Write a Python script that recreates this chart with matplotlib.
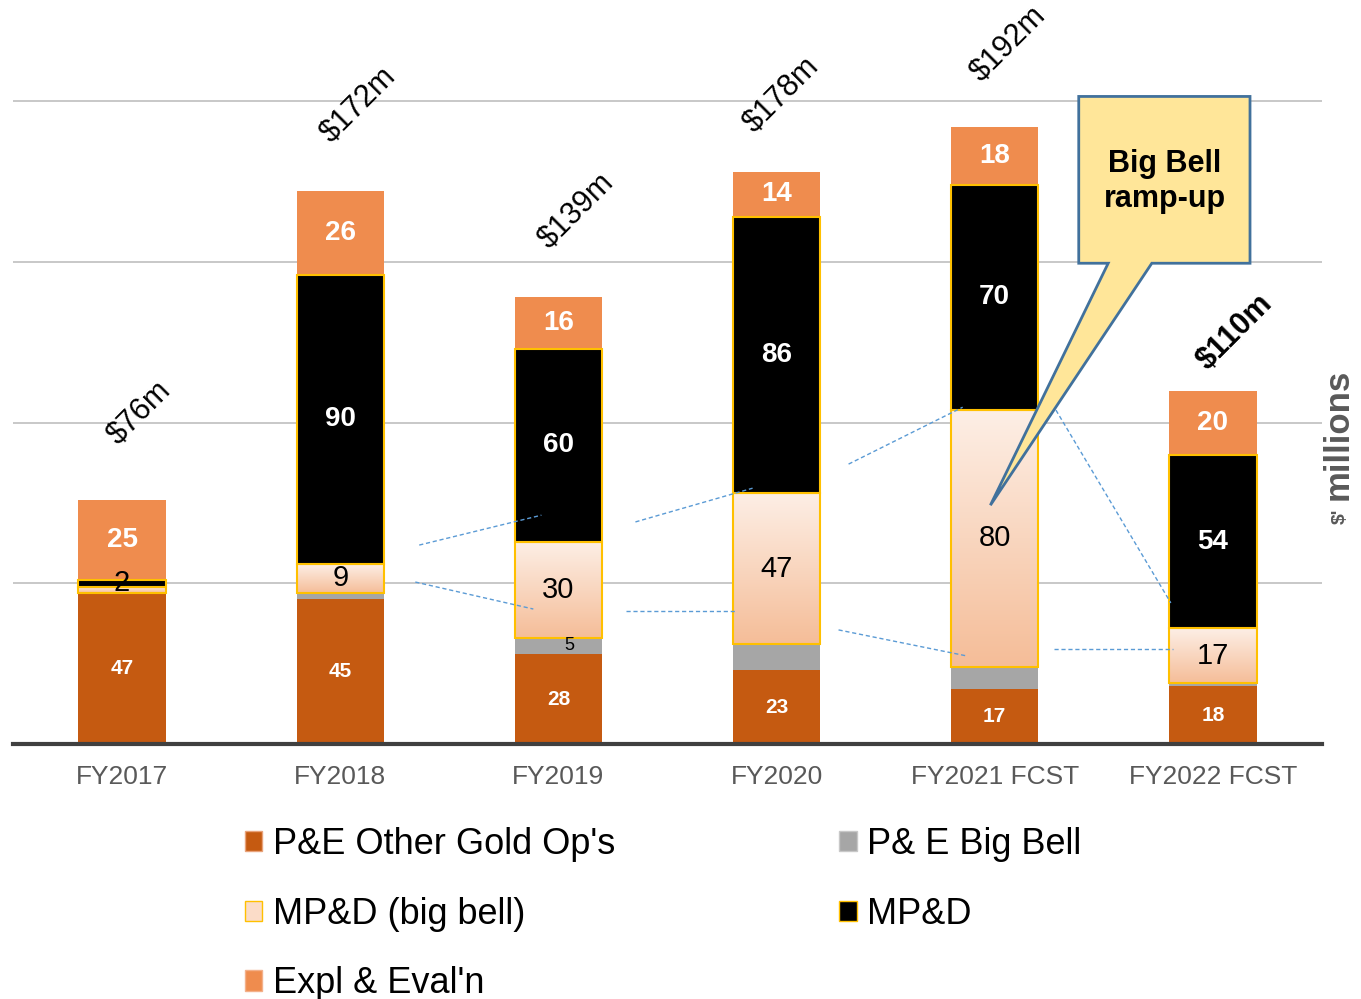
import matplotlib
matplotlib.use("Agg")
import matplotlib.pyplot as plt
import numpy as np
from matplotlib.patches import Patch, Polygon, Rectangle
from matplotlib.colors import LinearSegmentedColormap

plt.rcParams["font.family"] = ["Liberation Sans", "DejaVu Sans"]

categories = ["FY2017", "FY2018", "FY2019", "FY2020", "FY2021 FCST", "FY2022 FCST"]
pe_other = [47, 45, 28, 23, 17, 18]
pe_bigbell = [0, 2, 5, 8, 7, 1]
mpd_bigbell = [2, 9, 30, 47, 80, 17]
mpd = [2, 90, 60, 86, 70, 54]
expl = [25, 26, 16, 14, 18, 20]
totals = ["$76m", "$172m", "$139m", "$178m", "$192m", "$110m"]

C_PE = "#C55A11"
C_GRAY = "#A6A6A6"
C_EXPL = "#EF8C4E"
C_GOLD = "#FFC000"

W, H = 1361, 999
fig = plt.figure(figsize=(W / 100, H / 100), dpi=100)
ax = fig.add_axes([13 / W, (H - 744) / H, (1322 - 13) / W, (744 - 37) / H])
ax.set_xlim(-0.5, 5.5)
ax.set_ylim(0, 220)

x = np.arange(len(categories))
bw = 0.4

for g in [50, 100, 150, 200]:
    ax.axhline(g, color="#BFBFBF", lw=1.2, zorder=0)

b1 = np.array(pe_other, float)
ax.bar(x, pe_other, bw, color=C_PE, zorder=2)
ax.bar(x, pe_bigbell, bw, bottom=b1, color=C_GRAY, zorder=2)
b2 = b1 + np.array(pe_bigbell)
# gradient bars
cmap = LinearSegmentedColormap.from_list("peach", ["#F5BD98", "#FDEFE6"])
grad = np.linspace(0, 1, 256).reshape(-1, 1)
for i in range(len(x)):
    y0, y1 = b2[i], b2[i] + mpd_bigbell[i]
    ax.imshow(grad, cmap=cmap, origin="lower", aspect="auto",
              extent=[x[i] - bw / 2, x[i] + bw / 2, y0, y1], zorder=2)
    ax.add_patch(Rectangle((x[i] - bw / 2, y0), bw, y1 - y0, fill=False,
                           edgecolor=C_GOLD, lw=1.5, zorder=3))
b3 = b2 + np.array(mpd_bigbell)
ax.bar(x, mpd, bw, bottom=b3, color="black", edgecolor=C_GOLD, lw=1.5, zorder=3)
b4 = b3 + np.array(mpd)
ax.bar(x, expl, bw, bottom=b4, color=C_EXPL, zorder=2)
top = b4 + np.array(expl)
ax.set_xlim(-0.5, 5.5)
ax.set_ylim(0, 220)

# labels
total_offsets = [27, 27, 27, 24, 26, 18]
total_dx = [0.08, 0.08, 0.08, 0.02, 0.06, 0.1]
for i in range(len(x)):
    ax.text(x[i], pe_other[i] / 2, str(pe_other[i]), ha="center", va="center",
            color="white", fontsize=15, fontweight="bold", zorder=5)
    if i == 2:
        ax.text(x[i] + 0.05, b1[i] + pe_bigbell[i] / 2, str(pe_bigbell[i]), ha="center",
                va="center", color="black", fontsize=13, zorder=5)
    if i > 0:
        ax.text(x[i], b2[i] + mpd_bigbell[i] / 2, str(mpd_bigbell[i]), ha="center",
                va="center", color="black", fontsize=21, zorder=5)
    if i == 0:
        ax.text(x[i], b3[i] + mpd[i] / 2, str(mpd[i]), ha="center", va="center",
                color="black", fontsize=21, zorder=5)
    else:
        ax.text(x[i], b3[i] + mpd[i] / 2, str(mpd[i]), ha="center", va="center",
                color="white", fontsize=20, fontweight="bold", zorder=5)
    ax.text(x[i], b4[i] + expl[i] / 2, str(expl[i]), ha="center", va="center",
            color="white", fontsize=20, fontweight="bold", zorder=5)
    ax.text(x[i] + total_dx[i], top[i] + total_offsets[i], totals[i], ha="center",
            va="center", rotation=45, fontsize=22, color="black",
            fontweight="bold" if i == 5 else "normal", zorder=5)

# dashed connector lines
dash_lines = [
    ((1.362, 61.9), (1.922, 71.2)),
    ((1.344, 50.4), (1.885, 42.0)),
    ((2.353, 69.1), (2.890, 79.6)),
    ((2.312, 41.4), (2.812, 41.4)),
    ((3.330, 87.1), (3.853, 104.8)),
    ((3.284, 35.5), (3.872, 27.4)),
    ((4.271, 29.5), (4.817, 29.5)),
    ((4.248, 107.6), (4.807, 43.9)),
]
for (xa, ya), (xb, yb) in dash_lines:
    ax.plot([xa, xb], [ya, yb], color="#5B9BD5", lw=1, ls=(0, (3, 2)), zorder=4)

# callout
callout = Polygon([(4.385, 201.5), (5.17, 201.5), (5.17, 149.6), (4.72, 149.6),
                   (3.98, 74.3), (4.52, 149.6), (4.385, 149.6)], closed=True,
                  facecolor="#FFE699", edgecolor="#41719C", lw=2, zorder=6)
ax.add_patch(callout)
ax.text(4.78, 175, "Big Bell\nramp-up", ha="center", va="center", fontsize=22,
        fontweight="bold", linespacing=1.25, zorder=7)

for s in ["top", "left", "right"]:
    ax.spines[s].set_visible(False)
ax.spines["bottom"].set_color("#404040")
ax.spines["bottom"].set_linewidth(3)
ax.set_yticks([])
ax.set_xticks(x)
ax.set_xticklabels(categories, fontsize=19, color="#595959")
ax.tick_params(axis="x", length=0, pad=15)

fig.text(1338 / W, 1 - 434 / H, "millions", rotation=90, ha="center", va="center",
         fontsize=25, fontweight="bold", color="#595959")
fig.text(1340 / W, 1 - 516 / H, "$'", rotation=90, ha="center", va="center",
         fontsize=14, fontweight="bold", color="#595959")

handles = [
    Patch(facecolor=C_PE, edgecolor="#E8A27A", label="P&E Other Gold Op's"),
    Patch(facecolor="#FBDCC8", edgecolor=C_GOLD, label="MP&D (big bell)"),
    Patch(facecolor=C_EXPL, edgecolor="#F3B08A", label="Expl & Eval'n"),
    Patch(facecolor=C_GRAY, edgecolor="#C8C8C8", label="P& E Big Bell"),
    Patch(facecolor="black", edgecolor=C_GOLD, label="MP&D"),
]
fig.legend(handles=handles, ncol=2, loc="upper left", bbox_to_anchor=(245 / W, 1 - 827 / H),
           frameon=False, fontsize=26, handlelength=0.48, handleheight=0.48,
           handletextpad=0.3, labelspacing=0.96, columnspacing=6.2,
           borderpad=0, borderaxespad=0)

fig.savefig("out.png", dpi=100)
